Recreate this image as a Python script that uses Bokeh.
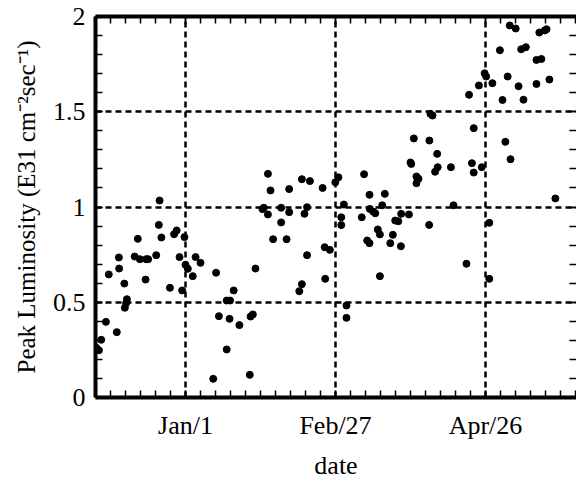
from bokeh.plotting import figure
from bokeh.models import Range1d, FixedTicker, LinearAxis, CustomJSTickFormatter
from bokeh.embed import file_html
from bokeh.resources import INLINE

# days since Jan 1
days = [-34.4, -33.4, -32.5, -30.7, -29.6, -26.5, -25.7, -25.6, -23.6, -23.4,
        -22.9, -22.6, -19.6, -18.4, -17.6, -15.4, -15.2, -14.4, -11.3, -10.3,
        -10.0, -9.3, -6.0, -4.4, -3.4, -2.3, -1.3, -0.4, 0.0, 0.9,
        2.8, 3.9, 5.8, 10.7, 11.8, 12.9, 15.9, 15.9, 17.0, 17.2,
        18.6, 20.8, 24.8, 25.1, 26.0, 27.0, 29.7, 30.2, 31.8, 31.8,
        32.8, 33.8, 36.9, 36.9, 39.0, 40.0, 40.0, 43.9, 44.9, 44.9,
        45.9, 46.9, 46.9, 48.0, 52.9, 53.7, 53.9, 55.7, 57.8, 59.0,
        60.1, 60.1, 61.1, 62.1, 62.1, 68.0, 68.9, 70.1, 71.0, 71.0,
        71.1, 72.4, 73.2, 74.2, 75.0, 75.0, 75.9, 76.9, 79.0, 80.0,
        80.9, 82.1, 83.1, 83.2, 86.2, 86.8, 87.1, 88.1, 89.1, 89.9,
        89.1, 94.0, 94.1, 94.5, 95.3, 96.3, 97.1, 97.3, 102.4, 103.4,
        108.4, 109.4, 110.5, 111.2, 111.2, 113.2, 114.3, 115.4, 116.0, 117.2,
        117.2, 118.4, 121.3, 122.3, 123.4, 124.3, 125.1, 125.4, 127.4, 128.5,
        129.5, 130.4, 131.3, 135.4, 135.4, 136.5, 137.3, 138.6, 139.3, 140.4,
        142.7]
lumi = [0.261, 0.248, 0.303, 0.397, 0.646, 0.343, 0.735, 0.677, 0.598, 0.471,
        0.495, 0.516, 0.740, 0.833, 0.726, 0.619, 0.726, 0.726, 0.747, 0.906,
        1.034, 0.840, 0.576, 0.857, 0.877, 0.737, 0.562, 0.842, 0.697, 0.676,
        0.637, 0.737, 0.707, 0.098, 0.655, 0.427, 0.509, 0.252, 0.413, 0.509,
        0.562, 0.380, 0.119, 0.425, 0.436, 0.677, 0.989, 0.996, 1.174, 0.961,
        1.087, 0.831, 0.996, 0.919, 0.831, 1.094, 0.973, 0.558, 0.595, 1.146,
        0.964, 0.999, 0.747, 1.136, 1.100, 0.789, 0.623, 0.775, 1.130, 1.156,
        0.946, 0.905, 1.013, 0.483, 0.418, 0.946, 1.172, 0.824, 0.810, 1.064,
        0.990, 0.976, 0.967, 0.882, 0.856, 0.637, 1.009, 1.069, 0.810, 0.854,
        0.929, 0.925, 0.794, 0.964, 0.961, 1.234, 1.226, 1.360, 1.160, 1.148,
        1.125, 0.906, 1.349, 1.489, 1.480, 1.185, 1.279, 1.209, 1.209, 1.009,
        0.702, 1.589, 1.230, 1.414, 1.181, 1.638, 1.209, 1.702, 1.685, 0.917,
        0.623, 1.650, 1.823, 1.562, 1.342, 1.685, 1.953, 1.251, 1.937, 1.634,
        1.828, 1.563, 1.839, 1.772, 1.646, 1.916, 1.777, 1.927, 1.933, 1.669,
        1.045]

x_tick_days = [0.0, 57.87, 115.74]
x_tick_labels = ["Jan/1", "Feb/27", "Apr/26"]
y_ticks = [0, 0.5, 1, 1.5, 2]
y_tick_labels = ["0", "0.5", "1", "1.5", "2"]

FONT = "Liberation Serif"

x_minor = [round(-34.72 + i * 5.787, 3) for i in range(33)]
y_minor = [round(i * 0.1, 2) for i in range(21)]

xticker = FixedTicker(ticks=x_tick_days, minor_ticks=x_minor)
yticker = FixedTicker(ticks=y_ticks, minor_ticks=y_minor)

p = figure(width=576, height=485, output_backend="svg", toolbar_location=None,
           x_range=Range1d(-34.72, 150.85), y_range=Range1d(0, 2),
           min_border_left=95, min_border_bottom=88, min_border_top=16,
           min_border_right=0, x_axis_label="date",
           y_axis_label="Peak Luminosity (E31 cm\u207b\u00b2sec\u207b\u00b9)")
p.outline_line_color = None
p.background_fill_color = "white"
p.border_fill_color = "white"

def style(ax):
    ax.axis_line_width = 4
    ax.axis_line_color = "black"
    ax.major_tick_in = 7
    ax.major_tick_out = 0
    ax.minor_tick_in = 7
    ax.minor_tick_out = 0
    ax.major_tick_line_width = 1.5
    ax.minor_tick_line_width = 1.5
    ax.major_tick_line_color = "black"
    ax.minor_tick_line_color = "black"
    ax.major_label_text_font = FONT
    ax.major_label_text_font_size = "26px"
    ax.major_label_text_color = "black"
    ax.axis_label_text_font = FONT
    ax.axis_label_text_font_size = "25px"
    ax.axis_label_text_font_style = "normal"
    ax.axis_label_text_color = "black"

xa = p.xaxis[0]
xa.ticker = xticker
style(xa)
xa.major_label_overrides = {v: s for v, s in zip(x_tick_days, x_tick_labels)}
xa.major_label_standoff = 13
xa.axis_label_standoff = 8
xa.axis_label_text_font_size = "26px"

ya = p.yaxis[0]
ya.ticker = yticker
style(ya)
ya.major_label_overrides = {v: s for v, s in zip(y_ticks, y_tick_labels)}
ya.major_label_standoff = 10
ya.axis_label_standoff = 10

blank = CustomJSTickFormatter(code="return ''")

top = LinearAxis(ticker=xticker, formatter=blank)
style(top)
top.major_label_text_font_size = "1px"
top.major_label_standoff = 0
p.add_layout(top, "above")

right = LinearAxis(ticker=yticker, formatter=blank)
style(right)
right.axis_line_color = None
right.major_label_text_font_size = "1px"
right.major_label_standoff = 0
p.add_layout(right, "right")

for g in (p.xgrid[0], p.ygrid[0]):
    g.grid_line_color = "black"
    g.grid_line_width = 2.5
    g.grid_line_dash = "6 4"
p.xgrid[0].ticker = xticker
p.ygrid[0].ticker = yticker

p.scatter(days, lumi, size=7, color="black")

open("out.html", "w").write(file_html(p, INLINE))
